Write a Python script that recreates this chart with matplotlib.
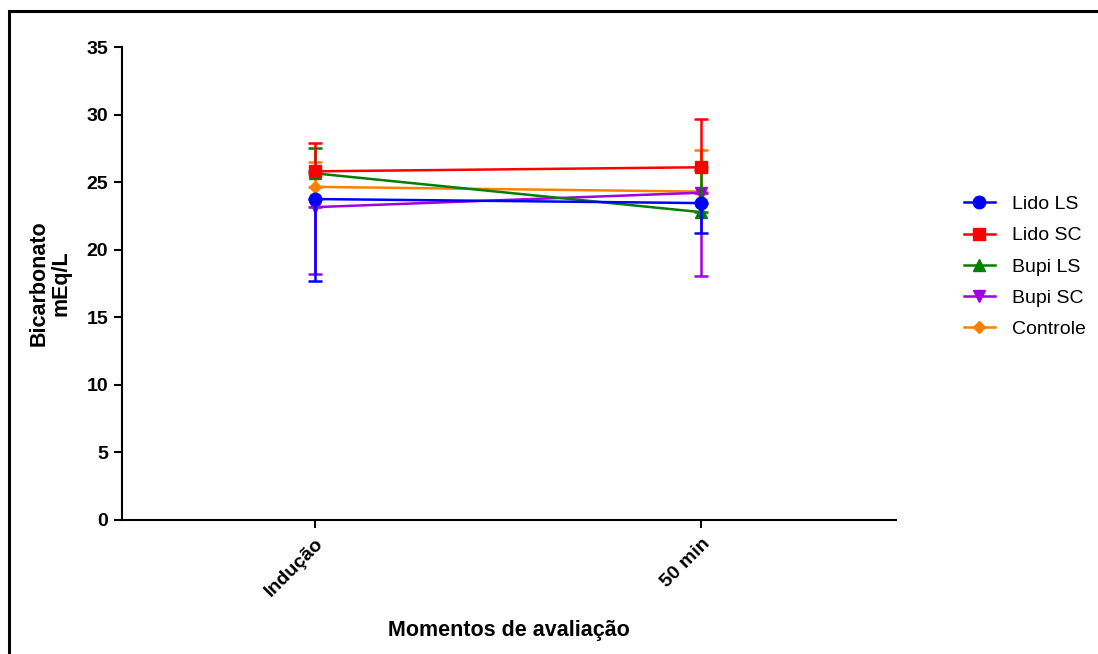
import matplotlib
matplotlib.use("Agg")
import matplotlib.pyplot as plt
from matplotlib.patches import Rectangle
from matplotlib.lines import Line2D

plt.rcParams['font.family'] = ['Liberation Sans', 'DejaVu Sans']

moments = ["Indução", "50 min"]
groups = ["Lido LS", "Lido SC", "Bupi LS", "Bupi SC", "Controle"]
means = {
    "Lido LS": [23.75, 23.45],
    "Lido SC": [25.80, 26.10],
    "Bupi LS": [25.65, 22.78],
    "Bupi SC": [23.15, 24.22],
    "Controle": [24.65, 24.30],
}
# error bar ends (one-sided, as in the original)
err_end = {
    "Lido LS": [17.70, 21.20],
    "Lido SC": [27.90, 29.68],
    "Bupi LS": [27.55, 25.90],
    "Bupi SC": [18.20, 18.05],
    "Controle": [26.50, 27.35],
}
colors = {"Lido LS": "#0000FF", "Lido SC": "#FF0000", "Bupi LS": "#008000",
          "Bupi SC": "#A000E0", "Controle": "#FF8000"}
markers = {"Lido LS": "o", "Lido SC": "s", "Bupi LS": "^", "Bupi SC": "v", "Controle": "D"}
msizes = {"Lido LS": 9, "Lido SC": 9, "Bupi LS": 8.5, "Bupi SC": 8.5, "Controle": 6.5}

fig = plt.figure(figsize=(10.98, 6.54), dpi=100)
ax = fig.add_axes([122/1098, 1 - 520/654, (896-122)/1098, (520-47)/654])

# outer frame like the exported graph
fig.patches.append(Rectangle((9/1098, -0.05), 1.2, 1 - 11/654 + 0.05,
                             transform=fig.transFigure, fill=False,
                             edgecolor='black', linewidth=2.2))

x = list(range(len(moments)))
n = len(groups)
handles = []
for i, g in enumerate(groups):
    lo, hi = [], []
    for m, e in zip(means[g], err_end[g]):
        if e < m:
            lo.append(m - e); hi.append(0)
        else:
            lo.append(0); hi.append(e - m)
    ax.errorbar(x, means[g], yerr=[lo, hi], color=colors[g], marker=markers[g],
                markersize=msizes[g], linewidth=1.8, elinewidth=1.8, capsize=5,
                capthick=1.8, zorder=10 + n - i)
    handles.append(Line2D([], [], color=colors[g], marker=markers[g],
                          markersize=msizes[g], linewidth=1.8, label=g))

ax.set_xlim(-0.5, 1.505)
ax.set_ylim(0, 35)
ax.set_yticks(range(0, 36, 5))
ax.set_xticks(x)
ax.set_xticklabels(moments, rotation=45, ha='right', rotation_mode='anchor',
                   fontsize=14, fontweight='bold')
for lbl in ax.get_yticklabels():
    lbl.set_fontweight('bold')
ax.tick_params(axis='y', labelsize=14, width=1.5, length=6, pad=4)
ax.tick_params(axis='x', width=1.5, length=6, pad=5)
ax.spines['top'].set_visible(False)
ax.spines['right'].set_visible(False)
ax.spines['left'].set_linewidth(1.5)
ax.spines['bottom'].set_linewidth(1.5)

ax.set_ylabel("Bicarbonato\nmEq/L", fontsize=15.5, fontweight='bold', labelpad=11,
              linespacing=1.0)
ax.set_xlabel("Momentos de avaliação", fontsize=15.5, fontweight='bold', labelpad=14)

leg = ax.legend(handles=handles, loc='upper left',
                bbox_to_anchor=(946/1098, 1 - 178/654),
                bbox_transform=fig.transFigure, frameon=False, fontsize=14,
                handlelength=1.6, labelspacing=0.7, handletextpad=0.9)

fig.savefig("out.png", dpi=100)
